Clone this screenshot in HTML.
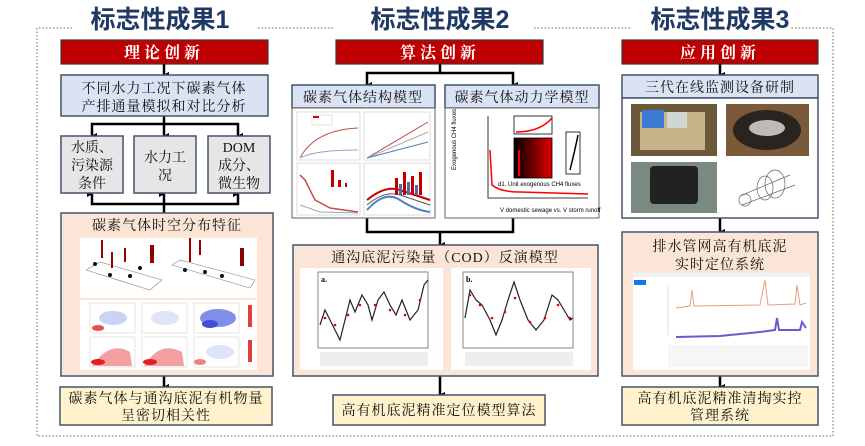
<!DOCTYPE html>
<html><head><meta charset="utf-8"><style>
html,body{margin:0;padding:0;background:#fff;width:865px;height:446px;overflow:hidden}
svg{display:block}
.t{font-family:"Liberation Sans","Noto Sans CJK SC",sans-serif;font-weight:bold;font-size:25px;fill:#1f3864}
.r{font-family:"Liberation Serif","Noto Serif CJK SC",serif;font-size:16px;fill:#fff;font-weight:bold}
.b{font-family:"Liberation Serif","Noto Serif CJK SC",serif;font-size:14px;fill:#111}
</style></head><body>
<svg width="865" height="446" viewBox="0 0 865 446" xmlns="http://www.w3.org/2000/svg">
<defs>
<marker id="ah" markerWidth="6" markerHeight="6" refX="3" refY="5" orient="auto" markerUnits="userSpaceOnUse" viewBox="0 0 6 6"><path d="M0,0 L6,0 L3,6 z" fill="#000"/></marker>
<linearGradient id="gr" x1="0" x2="1" y1="0" y2="0"><stop offset="0" stop-color="#000"/><stop offset="1" stop-color="#e00000"/></linearGradient>
</defs>
<g stroke="#999" stroke-width="1.5" stroke-dasharray="1.5,2" fill="none">
<path d="M72,28 L37,28 L37,436 L833,436 L833,28 L790,28"/>
<path d="M258,28 L335,28"/><path d="M534,28 L632,28"/>
</g>
<text class="t" x="160" y="28" text-anchor="middle">标志性成果1</text>
<text class="t" x="440" y="28" text-anchor="middle">标志性成果2</text>
<text class="t" x="720" y="28" text-anchor="middle">标志性成果3</text>

<g fill="#c00000" stroke="#3a3a3a" stroke-width="1.2">
<rect x="61" y="40" width="207" height="24"/>
<rect x="336" y="40" width="207" height="24"/>
<rect x="622" y="40" width="196" height="24"/>
</g>
<text class="r" x="164" y="58" text-anchor="middle" letter-spacing="4">理论创新</text>
<text class="r" x="440" y="58" text-anchor="middle" letter-spacing="4">算法创新</text>
<text class="r" x="720" y="58" text-anchor="middle" letter-spacing="4">应用创新</text>

<g stroke="#000" stroke-width="2.5" fill="none" marker-end="url(#ah)">
<path d="M164,64 L164,75"/>
<path d="M164,116 L164,136"/>
<path d="M164,124 L92,124 L92,136"/>
<path d="M164,124 L238,124 L238,136"/>
<path d="M164,213 L164,194"/>
<path d="M164,204 L92,204 L92,194"/>
<path d="M164,204 L238,204 L238,194"/>
<path d="M164,376 L164,387"/>
<path d="M440,64 L440,73 L367,73 L367,85"/>
<path d="M440,73 L513,73 L513,85"/>
<path d="M367,218 L367,232 L513,232 L513,218" marker-end="none"/>
<path d="M440,232 L440,245"/>
<path d="M440,376 L440,395"/>
<path d="M720,64 L720,75"/>
<path d="M720,218 L720,232"/>
<path d="M720,376 L720,387"/>
</g>

<g stroke="#44546a" stroke-width="1.5">
<rect x="61" y="75" width="207" height="41" fill="#dae3f3"/>
<rect x="61" y="136" width="62" height="57" fill="#e7e6e6"/>
<rect x="134" y="136" width="62" height="57" fill="#e7e6e6"/>
<rect x="208" y="136" width="62" height="57" fill="#e7e6e6"/>
<rect x="61" y="213" width="212" height="163" fill="#fbe5d6"/>
<rect x="60" y="387" width="212" height="38" fill="#fff2cc"/>
</g>
<text class="b" x="164" y="93" text-anchor="middle" letter-spacing="1">不同水力工况下碳素气体</text>
<text class="b" x="164" y="111" text-anchor="middle" letter-spacing="1">产排通量模拟和对比分析</text>
<text class="b" x="92" y="152" text-anchor="middle">水质、</text>
<text class="b" x="92" y="170" text-anchor="middle">污染源</text>
<text class="b" x="92" y="188" text-anchor="middle">条件</text>
<text class="b" x="165" y="162" text-anchor="middle">水力工</text>
<text class="b" x="165" y="180" text-anchor="middle">况</text>
<text class="b" x="239" y="152" text-anchor="middle">DOM</text>
<text class="b" x="239" y="170" text-anchor="middle">成分、</text>
<text class="b" x="239" y="188" text-anchor="middle">微生物</text>
<text class="b" x="167" y="230" text-anchor="middle" letter-spacing="1">碳素气体时空分布特征</text>
<rect x="80" y="238" width="177" height="60" fill="#fff"/>
<g stroke="#888" stroke-width="0.6" fill="none">
<path d="M86,270 L150,290 L162,280 L100,262 z"/><path d="M172,265 L250,288 L255,280 L180,260 z"/>
</g>
<g stroke="#900" stroke-width="2"><path d="M102,258 V240"/><path d="M112,268 V252"/><path d="M125,262 V248"/><path d="M190,262 V238"/><path d="M200,255 V240"/></g>
<g fill="#111"><circle cx="95" cy="264" r="2"/><circle cx="110" cy="275" r="2"/><circle cx="130" cy="276" r="2"/><circle cx="140" cy="268" r="2"/><circle cx="185" cy="270" r="2"/><circle cx="205" cy="272" r="2"/><circle cx="222" cy="276" r="2"/></g>
<rect x="150" y="245" width="4" height="18" fill="#8b0000"/><rect x="240" y="248" width="4" height="18" fill="#8b0000"/>
<rect x="80" y="300" width="177" height="70" fill="#fff"/>
<g>
<rect x="90" y="303" width="45" height="30" fill="#fff" stroke="#ccc" stroke-width=".5"/>
<rect x="142" y="303" width="45" height="30" fill="#fff" stroke="#ccc" stroke-width=".5"/>
<rect x="194" y="303" width="45" height="30" fill="#fff" stroke="#ccc" stroke-width=".5"/>
<rect x="90" y="337" width="45" height="30" fill="#fff" stroke="#ccc" stroke-width=".5"/>
<rect x="142" y="337" width="45" height="30" fill="#fff" stroke="#ccc" stroke-width=".5"/>
<rect x="194" y="337" width="45" height="30" fill="#fff" stroke="#ccc" stroke-width=".5"/>
<ellipse cx="113" cy="318" rx="14" ry="7" fill="#c9d3f5"/><ellipse cx="98" cy="328" rx="6" ry="3" fill="#e85050"/>
<ellipse cx="165" cy="318" rx="14" ry="7" fill="#dfe4f8"/>
<ellipse cx="218" cy="318" rx="18" ry="9" fill="#8090e8"/><ellipse cx="210" cy="324" rx="8" ry="4" fill="#4050d8"/>
<path d="M92,366 Q110,340 130,352 L132,366 z" fill="#f5a0a0"/><ellipse cx="98" cy="362" rx="7" ry="3" fill="#e02020"/>
<path d="M144,366 Q160,340 182,352 L184,366 z" fill="#f5a0a0"/><ellipse cx="150" cy="362" rx="7" ry="3" fill="#e02020"/>
<ellipse cx="220" cy="352" rx="14" ry="7" fill="#dfe4f8"/><ellipse cx="200" cy="362" rx="6" ry="3" fill="#f08080"/>
<rect x="248" y="305" width="4" height="22" fill="#e04040"/><rect x="248" y="340" width="4" height="22" fill="#e04040"/>
</g>
<text class="b" x="166" y="403" text-anchor="middle" letter-spacing="1">碳素气体与通沟底泥有机物量</text>
<text class="b" x="166" y="420" text-anchor="middle" letter-spacing="1">呈密切相关性</text>

<g stroke="#44546a" stroke-width="1.5">
<rect x="292" y="85" width="143" height="23" fill="#dae3f3"/>
<rect x="445" y="85" width="154" height="23" fill="#dae3f3"/>
</g>
<g stroke="#666" stroke-width="1" fill="#fff">
<rect x="292" y="108" width="143" height="110"/>
<rect x="445" y="108" width="154" height="110"/>
</g>
<text class="b" x="363" y="102" text-anchor="middle" letter-spacing="1">碳素气体结构模型</text>
<text class="b" x="522" y="102" text-anchor="middle" letter-spacing="1">碳素气体动力学模型</text>
<g fill="none" stroke-width="1">
<rect x="297" y="112" width="63" height="48" stroke="#ddd"/><rect x="364" y="112" width="66" height="48" stroke="#ddd"/>
<rect x="297" y="163" width="63" height="52" stroke="#ddd"/><rect x="364" y="163" width="66" height="52" stroke="#ddd"/>
<path d="M300,158 Q315,130 358,128" stroke="#c0504d"/><path d="M300,158 Q315,150 358,150" stroke="#8fa8c8"/>
<path d="M367,158 L428,122" stroke="#c0504d"/><path d="M367,158 L428,132" stroke="#aaa"/><path d="M367,158 L428,142" stroke="#4f81bd"/>
<path d="M300,175 L305,180 L315,200 L330,208 L358,212" stroke="#c0504d" stroke-width="1.5"/><path d="M300,205 L320,212 L358,213" stroke="#8fa8c8"/>
<path d="M367,200 Q385,185 400,190 T430,200" stroke="#c00000" stroke-width="2"/><path d="M367,205 Q385,190 400,195 T430,205" stroke="#555"/><path d="M367,210 Q385,190 400,200 T430,212" stroke="#4f81bd" stroke-width="2"/>
</g>
<rect x="312" y="115" width="20" height="10" fill="#fff" stroke="#ccc" stroke-width=".5"/><rect x="313" y="116" width="6" height="2" fill="#c00"/>
<g fill="#c00000"><rect x="331" y="170" width="3" height="17"/><rect x="338" y="180" width="3" height="7"/><rect x="345" y="183" width="2" height="4"/>
<rect x="395" y="178" width="3" height="17"/><rect x="403" y="172" width="3" height="23"/><rect x="411" y="176" width="3" height="19"/><rect x="419" y="172" width="3" height="23"/></g>
<g fill="#4f6fa0"><rect x="399" y="184" width="3" height="11"/><rect x="407" y="182" width="3" height="13"/><rect x="415" y="185" width="3" height="10"/></g>
<g fill="none" stroke="#000" stroke-width=".8">
<path d="M488,116 L488,198 L588,198"/>
<rect x="514" y="116" width="38" height="18"/><rect x="566" y="132" width="14" height="42"/>
</g>
<rect x="514" y="138" width="38" height="40" fill="url(#gr)" stroke="#000" stroke-width=".8"/>
<path d="M519,176 L519,150" stroke="#f00" stroke-width="2"/>
<path d="M516,132 Q540,132 552,118" stroke="#f00" fill="none" stroke-width="1.5"/>
<path d="M570,170 Q575,150 578,135" stroke="#000" fill="none" stroke-width="1.5"/>
<path d="M490,150 L492,185 Q500,192 520,192 L588,194" stroke="#f00" fill="none" stroke-width="1.5"/>
<text x="456" y="170" font-family="Liberation Sans,sans-serif" font-size="6" fill="#000" transform="rotate(-90 456 170)">Exogenous CH4 fluxes</text>
<text x="498" y="186" font-family="Liberation Sans,sans-serif" font-size="6" fill="#000">d1. Unit exogenous CH4 fluxes</text>
<text x="500" y="212" font-family="Liberation Sans,sans-serif" font-size="6" fill="#000">V domestic sewage vs. V storm runoff</text>

<g stroke="#44546a" stroke-width="1.5">
<rect x="293" y="245" width="305" height="131" fill="#fbe5d6"/>
<rect x="333" y="395" width="212" height="30" fill="#fff2cc"/>
</g>
<text class="b" x="445" y="262" text-anchor="middle" letter-spacing="1">通沟底泥污染量（COD）反演模型</text>
<rect x="300" y="268" width="143" height="102" fill="#fff"/>
<rect x="451" y="268" width="140" height="102" fill="#fff"/>
<g fill="none" stroke="#555" stroke-width=".7"><rect x="318" y="272" width="110" height="76"/><rect x="463" y="272" width="110" height="76"/></g>
<path d="M320,325 L325,310 L330,320 L335,330 L340,340 L345,320 L350,300 L355,312 L362,295 L368,305 L372,320 L378,300 L384,292 L390,305 L396,315 L402,300 L410,320 L418,310 L424,285 L428,280" stroke="#222" fill="none" stroke-width="1.2"/>
<path d="M465,318 L470,290 L476,300 L482,305 L490,320 L496,335 L502,320 L508,300 L514,282 L520,300 L528,320 L536,330 L544,320 L552,295 L558,300 L564,310 L570,320 L573,318" stroke="#222" fill="none" stroke-width="1.2"/>
<g fill="#e00000"><circle cx="325" cy="318" r="1.3"/><circle cx="335" cy="325" r="1.3"/><circle cx="348" cy="315" r="1.3"/><circle cx="360" cy="305" r="1.3"/><circle cx="375" cy="305" r="1.3"/><circle cx="390" cy="310" r="1.3"/><circle cx="405" cy="315" r="1.3"/><circle cx="420" cy="300" r="1.3"/>
<circle cx="470" cy="295" r="1.3"/><circle cx="480" cy="305" r="1.3"/><circle cx="492" cy="318" r="1.3"/><circle cx="505" cy="312" r="1.3"/><circle cx="515" cy="298" r="1.3"/><circle cx="530" cy="322" r="1.3"/><circle cx="545" cy="318" r="1.3"/><circle cx="558" cy="305" r="1.3"/><circle cx="570" cy="318" r="1.3"/></g>
<text x="321" y="282" font-family="Liberation Serif,serif" font-size="8" font-weight="bold">a.</text>
<text x="466" y="282" font-family="Liberation Serif,serif" font-size="8" font-weight="bold">b.</text>
<rect x="320" y="352" width="108" height="14" fill="#eee"/><rect x="465" y="352" width="108" height="14" fill="#eee"/>
<text class="b" x="439" y="415" text-anchor="middle" letter-spacing="1">高有机底泥精准定位模型算法</text>

<g stroke="#44546a" stroke-width="1.5">
<rect x="622" y="75" width="196" height="23" fill="#dae3f3"/>
<rect x="622" y="98" width="196" height="120" fill="#fff"/>
<rect x="622" y="232" width="196" height="144" fill="#fbe5d6"/>
<rect x="622" y="387" width="196" height="38" fill="#fff2cc"/>
</g>
<text class="b" x="720" y="92" text-anchor="middle" letter-spacing="1">三代在线监测设备研制</text>
<rect x="631" y="104" width="86" height="52" fill="#6a5a3a"/><rect x="640" y="112" width="65" height="38" fill="#c8b48a"/><rect x="642" y="110" width="22" height="18" fill="#3a7ad0"/><rect x="667" y="112" width="20" height="16" fill="#cfd8d0"/>
<rect x="726" y="104" width="83" height="52" fill="#7a5a3a"/><ellipse cx="767" cy="130" rx="34" ry="20" fill="#2a2420"/><ellipse cx="767" cy="128" rx="18" ry="8" fill="#bbb"/>
<rect x="631" y="162" width="86" height="51" fill="#7a8a80"/><rect x="650" y="166" width="48" height="38" rx="4" fill="#222"/>
<g stroke="#666" fill="none" stroke-width=".7"><ellipse cx="765" cy="188" rx="8" ry="12"/><ellipse cx="775" cy="184" rx="10" ry="14"/><path d="M740,196 L790,175"/><path d="M742,205 L795,185"/><circle cx="745" cy="200" r="6"/></g>
<text class="b" x="720" y="251" text-anchor="middle" letter-spacing="1">排水管网高有机底泥</text>
<text class="b" x="720" y="269" text-anchor="middle" letter-spacing="1">实时定位系统</text>
<rect x="633" y="272" width="177" height="98" fill="#fff"/>
<rect x="633" y="272" width="177" height="5" fill="#f0f0f0"/>
<rect x="634" y="280" width="12" height="5" fill="#1a73e8"/>
<path d="M668,285 V335" stroke="#ddd"/>
<path d="M676,308 L690,306 L692,290 L694,306 L760,305 L765,280 L768,305 L795,304 L797,285 L800,305 L806,303" stroke="#e8a080" fill="none" stroke-width="1"/>
<path d="M676,337 L720,336 L760,332 L775,330 L777,318 L779,330 L800,330 L802,322 L806,328" stroke="#6a5acd" fill="none" stroke-width="2"/>
<rect x="668" y="345" width="140" height="22" fill="#f6f6f6"/>
<text class="b" x="720" y="403" text-anchor="middle" letter-spacing="1">高有机底泥精准清掏实控</text>
<text class="b" x="720" y="420" text-anchor="middle" letter-spacing="1">管理系统</text>
</svg>
</body></html>
